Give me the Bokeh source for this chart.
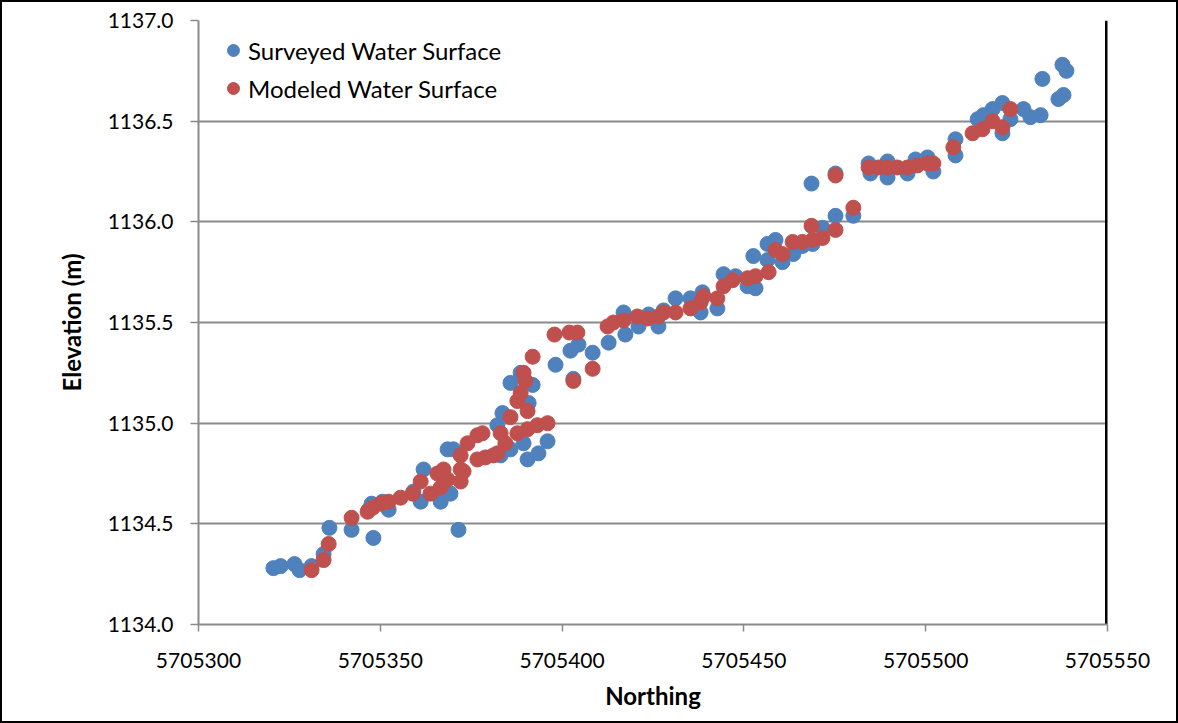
from bokeh.plotting import figure
from bokeh.models import FixedTicker, NumeralTickFormatter, Range1d, Legend, LegendItem
from bokeh.embed import file_html
from bokeh.resources import INLINE

# Surveyed Water Surface
surveyed_northing = [
    5705320.6, 5705322.6, 5705326.4, 5705327.8, 5705331.1, 5705334.4, 5705336.0, 5705342.1,
    5705348.1, 5705346.8, 5705347.6, 5705350.6, 5705352.3, 5705359.1, 5705361.1, 5705361.9,
    5705366.6, 5705369.3, 5705371.5, 5705368.5, 5705370.1, 5705382.2, 5705383.6, 5705385.8,
    5705388.6, 5705391.9, 5705390.8, 5705385.8, 5705389.4, 5705390.5, 5705393.5, 5705396.0,
    5705383.1, 5705398.2, 5705402.3, 5705404.5, 5705408.4, 5705403.1, 5705412.8, 5705417.4,
    5705416.9, 5705421.0, 5705423.8, 5705426.5, 5705427.9, 5705431.2, 5705435.3, 5705438.1,
    5705438.6, 5705442.7, 5705444.4, 5705447.7, 5705451.0, 5705452.6, 5705453.2, 5705456.5,
    5705456.5, 5705458.7, 5705460.6, 5705463.6, 5705466.1, 5705468.9, 5705468.6, 5705471.6,
    5705475.2, 5705475.2, 5705480.1, 5705484.3, 5705484.8, 5705489.5, 5705489.5, 5705495.0,
    5705497.2, 5705500.5, 5705502.1, 5705508.2, 5705508.2, 5705514.3, 5705515.9, 5705518.4,
    5705521.1, 5705521.1, 5705523.3, 5705526.9, 5705528.8, 5705531.6, 5705532.1, 5705536.5,
    5705537.9, 5705537.6, 5705538.7,
]
surveyed_elevation = [
    1134.28, 1134.29, 1134.30, 1134.27, 1134.29, 1134.35, 1134.48, 1134.47,
    1134.43, 1134.57, 1134.60, 1134.61, 1134.57, 1134.66, 1134.61, 1134.77,
    1134.61, 1134.65, 1134.47, 1134.87, 1134.87, 1134.99, 1135.05, 1135.20,
    1135.25, 1135.19, 1135.10, 1134.87, 1134.90, 1134.82, 1134.85, 1134.91,
    1134.84, 1135.29, 1135.36, 1135.39, 1135.35, 1135.22, 1135.40, 1135.44,
    1135.55, 1135.48, 1135.54, 1135.48, 1135.56, 1135.62, 1135.62, 1135.55,
    1135.65, 1135.57, 1135.74, 1135.73, 1135.68, 1135.83, 1135.67, 1135.81,
    1135.89, 1135.91, 1135.80, 1135.84, 1135.88, 1135.89, 1136.19, 1135.97,
    1136.03, 1136.24, 1136.03, 1136.29, 1136.24, 1136.30, 1136.22, 1136.24,
    1136.31, 1136.32, 1136.25, 1136.41, 1136.33, 1136.51, 1136.53, 1136.56,
    1136.59, 1136.44, 1136.51, 1136.56, 1136.52, 1136.53, 1136.71, 1136.61,
    1136.63, 1136.78, 1136.75,
]

# Modeled Water Surface
modeled_northing = [
    5705331.1, 5705334.4, 5705335.8, 5705342.1, 5705346.5, 5705347.9, 5705350.1, 5705352.3,
    5705355.6, 5705358.9, 5705361.1, 5705363.8, 5705365.7, 5705366.6, 5705367.4, 5705368.5,
    5705372.1, 5705372.1, 5705372.9, 5705372.1, 5705374.0, 5705376.7, 5705378.1, 5705376.7,
    5705378.9, 5705381.1, 5705382.2, 5705383.1, 5705384.4, 5705385.8, 5705387.7, 5705387.7,
    5705388.6, 5705389.4, 5705389.9, 5705390.5, 5705390.5, 5705391.9, 5705393.2, 5705396.0,
    5705397.9, 5705402.0, 5705404.2, 5705403.1, 5705408.4, 5705412.5, 5705414.1, 5705416.9,
    5705420.7, 5705423.5, 5705426.5, 5705427.9, 5705431.2, 5705435.3, 5705438.1, 5705438.9,
    5705442.7, 5705444.4, 5705446.9, 5705451.0, 5705453.2, 5705456.8, 5705458.7, 5705460.6,
    5705463.4, 5705466.1, 5705468.9, 5705468.6, 5705471.6, 5705475.2, 5705475.2, 5705480.1,
    5705484.3, 5705487.0, 5705489.5, 5705492.2, 5705495.0, 5705497.7, 5705500.5, 5705502.1,
    5705507.6, 5705512.9, 5705515.6, 5705518.4, 5705521.1, 5705523.3,
]
modeled_elevation = [
    1134.27, 1134.32, 1134.40, 1134.53, 1134.56, 1134.58, 1134.60, 1134.61,
    1134.63, 1134.65, 1134.71, 1134.65, 1134.75, 1134.68, 1134.77, 1134.72,
    1134.71, 1134.77, 1134.76, 1134.84, 1134.90, 1134.94, 1134.95, 1134.82,
    1134.83, 1134.84, 1134.85, 1134.95, 1134.90, 1135.03, 1134.95, 1135.11,
    1135.15, 1135.25, 1135.21, 1135.06, 1134.97, 1135.33, 1134.99, 1135.00,
    1135.44, 1135.45, 1135.45, 1135.21, 1135.27, 1135.48, 1135.50, 1135.51,
    1135.53, 1135.52, 1135.53, 1135.55, 1135.55, 1135.57, 1135.60, 1135.63,
    1135.62, 1135.68, 1135.71, 1135.72, 1135.73, 1135.75, 1135.86, 1135.84,
    1135.90, 1135.90, 1135.91, 1135.98, 1135.92, 1135.96, 1136.23, 1136.07,
    1136.27, 1136.27, 1136.27, 1136.27, 1136.27, 1136.28, 1136.29, 1136.29,
    1136.37, 1136.44, 1136.46, 1136.50, 1136.47, 1136.56,
]

x_ticks = [5705300, 5705350, 5705400, 5705450, 5705500, 5705550]
y_ticks = [1134.0, 1134.5, 1135.0, 1135.5, 1136.0, 1136.5, 1137.0]

FONT = "Lato"
GRID = "#8a8a8a"

p = figure(
    frame_width=909, frame_height=604,
    min_border_left=198, min_border_right=71, min_border_top=20, min_border_bottom=99,
    x_range=Range1d(5705300, 5705550), y_range=Range1d(1134.0, 1137.0),
    output_backend="svg", toolbar_location=None,
)
p.outline_line_color = None
# outer chart border: drawn by the host element, visible through a transparent border fill
p.border_fill_color = None
p.background_fill_color = "white"
p.styles = {"box-shadow": "inset 0 0 0 2px #000000", "background-color": "white"}

p.xgrid.grid_line_color = None
p.ygrid.grid_line_color = GRID
p.ygrid.grid_line_width = 2

for ax in (p.xaxis[0], p.yaxis[0]):
    ax.axis_line_color = GRID
    ax.axis_line_width = 2
    ax.major_tick_line_color = GRID
    ax.major_tick_line_width = 1.5
    ax.major_tick_in = 0
    ax.minor_tick_line_color = None
    ax.major_label_text_font = FONT
    ax.major_label_text_font_size = "21px"
    ax.major_label_text_color = "#000000"
    ax.axis_label_text_font = FONT
    ax.axis_label_text_font_style = "bold"
    ax.axis_label_text_font_size = "24px"
    ax.axis_label_text_color = "#000000"

p.xaxis.ticker = FixedTicker(ticks=x_ticks)
p.yaxis.ticker = FixedTicker(ticks=y_ticks)
p.xaxis.formatter = NumeralTickFormatter(format="0")
p.yaxis.formatter = NumeralTickFormatter(format="0.0")
p.xaxis.major_tick_out = 7
p.yaxis.major_tick_out = 8
p.xaxis.major_label_standoff = 21
p.yaxis.major_label_standoff = 17
p.xaxis.axis_label = "Northing"
p.yaxis.axis_label = "Elevation (m)"
p.xaxis.axis_label_standoff = 10
p.yaxis.axis_label_standoff = 19

# dark right edge of the plot area
p.segment(x0=[x_ticks[-1]], y0=[y_ticks[0]], x1=[x_ticks[-1]], y1=[y_ticks[-1]],
          line_color="#000000", line_width=5)

r_s = p.scatter(surveyed_northing, surveyed_elevation, size=15, marker="circle",
                fill_color="#4F81BD", line_color="#4F81BD")
r_m = p.scatter(modeled_northing, modeled_elevation, size=15, marker="circle",
                fill_color="#C0504D", line_color="#C0504D")

legend = Legend(
    items=[LegendItem(label="Surveyed Water Surface", renderers=[r_s]),
           LegendItem(label="Modeled Water Surface", renderers=[r_m])],
    location=(20, 517),
    border_line_color=None, background_fill_alpha=0,
    padding=0, margin=0, spacing=0,
    glyph_width=30, glyph_height=38, label_height=38, label_standoff=0,
    label_text_font=FONT, label_text_font_size="24px", label_text_color="#000000",
)
p.add_layout(legend)

open("out.html", "w").write(file_html(p, INLINE))
